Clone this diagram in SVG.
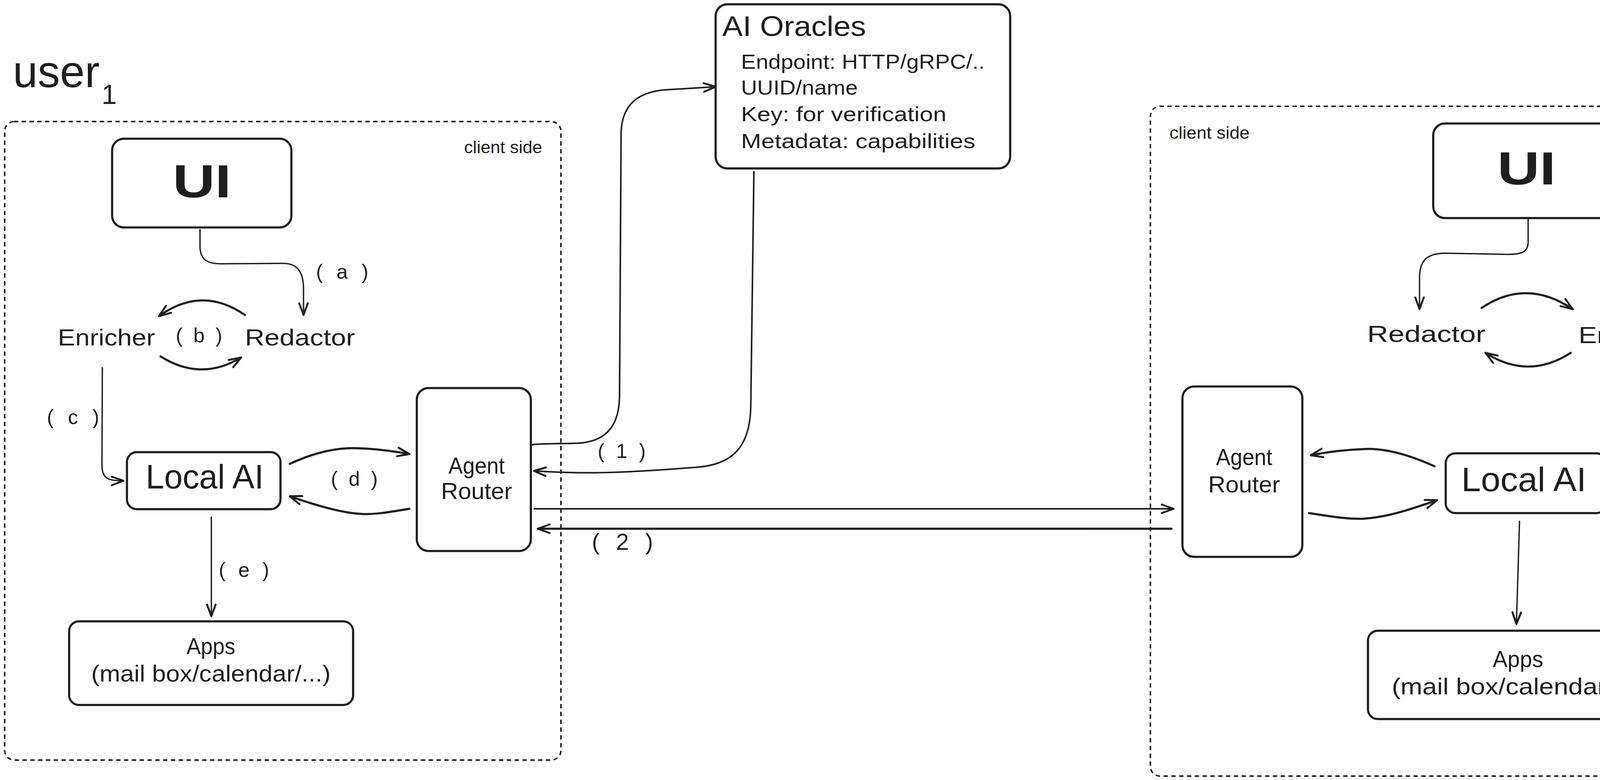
<svg xmlns="http://www.w3.org/2000/svg" width="4455" height="1996" viewBox="0 0 4455 1996">
<style>
.bg{fill:#ffffff}
.box{fill:#ffffff;stroke:#1e1e1e;stroke-width:5.5}
.frame{fill:none;stroke:#1e1e1e;stroke-width:4;stroke-dasharray:8 12;stroke-linecap:round}
.edge{fill:none;stroke:#1e1e1e;stroke-width:4;stroke-linecap:round;stroke-linejoin:round;marker-end:url(#ah)}
.thin{stroke-width:3.5}
.thick{stroke-width:5.5}
.t{font-family:"Liberation Sans",Arial,sans-serif;fill:#1e1e1e}
.big{font-size:115px}
.sub{font-size:70px}
.cs{font-size:45px}
.ui{font-size:118px;font-weight:bold}
.nm{font-size:60px}
.lab{font-size:52px}
.lai{font-size:88px}
.ttl{font-size:72px}
</style>
<defs>
<marker id="ah" viewBox="-36 -18 40 36" refX="0" refY="0" markerWidth="40" markerHeight="36" markerUnits="userSpaceOnUse" orient="auto">
<path d="M-30,-11 L0,0 L-30,11" fill="none" stroke="#1e1e1e" stroke-width="5" stroke-linecap="round" stroke-linejoin="round"/>
</marker>
</defs>
<rect class="bg" x="0" y="0" width="4455" height="1996"/>

<g id="user1-title">
<text class="t big" x="33" y="223" textLength="222" lengthAdjust="spacingAndGlyphs">user</text>
<text class="t sub" x="260" y="266">1</text>
</g>
<g id="user2-title">
<text class="t big" x="4182" y="185" textLength="210" lengthAdjust="spacingAndGlyphs">user</text>
<text class="t sub" x="4400" y="223">2</text>
</g>

<g id="client-side-1">
<rect class="frame" x="12" y="311" width="1424" height="1634" rx="25"/>
<text class="t cs" x="1188" y="392" textLength="200" lengthAdjust="spacingAndGlyphs">client side</text>
</g>
<g id="client-side-2">
<rect class="frame" x="2945" y="272" width="1498" height="1714" rx="25"/>
<text class="t cs" x="2994" y="355" textLength="205" lengthAdjust="spacingAndGlyphs">client side</text>
</g>

<g id="connectors">
<path class="edge thin" d="M512,588 L512,630 C512,664 530,675 565,675 L725,674 C763,674 777,698 777,740 L777,806"/>
<path class="edge thick" d="M627,806 Q517,730 407,809"/>
<path class="edge thick" d="M411,912 Q514,977 617,915"/>
<path class="edge thin" d="M262,941 L261,1190 C261,1224 276,1231 316,1230"/>
<path class="edge thick" d="M742,1187 C800,1160 860,1145 914,1147 C960,1148 1010,1155 1048,1162"/>
<path class="edge thick" d="M1048,1302 C1010,1308 960,1318 923,1315 C870,1312 800,1290 742,1270"/>
<path class="edge thin" d="M541,1323 L541,1577"/>
<path class="edge" d="M1362,1138 C1400,1134 1440,1136 1480,1134 C1560,1130 1586,1080 1586,1010 L1590,340 C1592,262 1640,236 1700,230 L1832,222"/>
<path class="edge" d="M1930,439 L1922,1040 C1920,1150 1870,1190 1780,1196 C1600,1210 1500,1214 1367,1205"/>
<path class="edge" d="M1368,1302 L3004,1302"/>
<path class="edge thick" d="M2999,1353 L1377,1353"/>
<path class="edge thin" d="M3912,561 L3912,620 C3912,645 3895,651 3860,651 L3700,648 C3650,648 3634,670 3634,710 L3634,791"/>
<path class="edge thick" d="M3793,788 Q3907,711 4026,791"/>
<path class="edge thick" d="M4021,903 Q3912,973 3803,903"/>
<path class="edge thin" d="M4175,935 L4176,1200 C4176,1232 4160,1240 4125,1240"/>
<path class="edge thick" d="M3672,1193 C3610,1165 3550,1147 3495,1149 C3440,1151 3390,1158 3356,1165"/>
<path class="edge thick" d="M3351,1313 C3400,1320 3450,1330 3495,1327 C3560,1322 3620,1300 3679,1280"/>
<path class="edge thin" d="M3890,1334 L3882,1597"/>
</g>

<g id="edge-labels">
<text class="t lab" x="809" y="713" textLength="134" lengthAdjust="spacing">( a )</text>
<text class="t lab" x="450" y="876" textLength="119" lengthAdjust="spacing">( b )</text>
<text class="t lab" x="120" y="1085" textLength="134" lengthAdjust="spacing">( c )</text>
<text class="t lab" x="847" y="1243" textLength="120" lengthAdjust="spacing">( d )</text>
<text class="t lab" x="560" y="1476" textLength="129" lengthAdjust="spacing">( e )</text>
<text class="t lab" x="1530" y="1172" textLength="123" lengthAdjust="spacing">( 1 )</text>
<text class="t" style="font-size:60px" x="1515" y="1407" textLength="157" lengthAdjust="spacing">( 2 )</text>
</g>

<g id="ui-1">
<rect class="box" x="287" y="355" width="459" height="227" rx="30"/>
<text class="t ui" x="517" y="505" text-anchor="middle" textLength="150" lengthAdjust="spacingAndGlyphs">UI</text>
</g>
<g id="enricher-1">
<text class="t nm" x="148" y="884" textLength="249" lengthAdjust="spacingAndGlyphs">Enricher</text>
</g>
<g id="redactor-1">
<text class="t nm" x="627" y="884" textLength="282" lengthAdjust="spacingAndGlyphs">Redactor</text>
</g>
<g id="local-ai-1">
<rect class="box" x="325" y="1157" width="393" height="146" rx="25"/>
<text class="t lai" x="373" y="1250" textLength="302" lengthAdjust="spacingAndGlyphs">Local AI</text>
</g>
<g id="agent-router-1">
<rect class="box" x="1067" y="993" width="292" height="417" rx="30"/>
<text class="t nm" x="1220" y="1212" text-anchor="middle" textLength="144" lengthAdjust="spacingAndGlyphs">Agent</text>
<text class="t nm" x="1220" y="1277" text-anchor="middle" textLength="182" lengthAdjust="spacingAndGlyphs">Router</text>
</g>
<g id="apps-1">
<rect class="box" x="177" y="1590" width="727" height="214" rx="25"/>
<text class="t nm" x="540" y="1674" text-anchor="middle" textLength="125" lengthAdjust="spacingAndGlyphs">Apps</text>
<text class="t nm" x="540" y="1744" text-anchor="middle" textLength="613" lengthAdjust="spacingAndGlyphs">(mail box/calendar/...)</text>
</g>

<g id="ai-oracles">
<rect class="box" x="1832" y="11" width="754" height="420" rx="30"/>
<text class="t ttl" x="1849" y="92" textLength="368" lengthAdjust="spacingAndGlyphs">AI Oracles</text>
<text class="t lab" x="1897" y="176" textLength="624" lengthAdjust="spacingAndGlyphs">Endpoint: HTTP/gRPC/..</text>
<text class="t lab" x="1897" y="242" textLength="299" lengthAdjust="spacingAndGlyphs">UUID/name</text>
<text class="t lab" x="1897" y="310" textLength="526" lengthAdjust="spacingAndGlyphs">Key: for verification</text>
<text class="t lab" x="1897" y="379" textLength="600" lengthAdjust="spacingAndGlyphs">Metadata: capabilities</text>
</g>

<g id="ui-2">
<rect class="box" x="3669" y="316" width="481" height="242" rx="30"/>
<text class="t ui" x="3908" y="472" text-anchor="middle" textLength="150" lengthAdjust="spacingAndGlyphs">UI</text>
</g>
<g id="redactor-2">
<text class="t nm" x="3500" y="875" textLength="303" lengthAdjust="spacingAndGlyphs">Redactor</text>
</g>
<g id="enricher-2">
<text class="t nm" x="4041" y="878" textLength="263" lengthAdjust="spacingAndGlyphs">Enricher</text>
</g>
<g id="agent-router-2">
<rect class="box" x="3027" y="989" width="307" height="436" rx="30"/>
<text class="t nm" x="3185" y="1190" text-anchor="middle" textLength="144" lengthAdjust="spacingAndGlyphs">Agent</text>
<text class="t nm" x="3185" y="1260" text-anchor="middle" textLength="184" lengthAdjust="spacingAndGlyphs">Router</text>
</g>
<g id="local-ai-2">
<rect class="box" x="3701" y="1160" width="411" height="153" rx="25"/>
<text class="t lai" x="3741" y="1257" textLength="320" lengthAdjust="spacingAndGlyphs">Local AI</text>
</g>
<g id="apps-2">
<rect class="box" x="3502" y="1614" width="767" height="226" rx="25"/>
<text class="t nm" x="3886" y="1707" text-anchor="middle" textLength="129" lengthAdjust="spacingAndGlyphs">Apps</text>
<text class="t nm" x="3886" y="1777" text-anchor="middle" textLength="646" lengthAdjust="spacingAndGlyphs">(mail box/calendar/...)</text>
</g>
</svg>
